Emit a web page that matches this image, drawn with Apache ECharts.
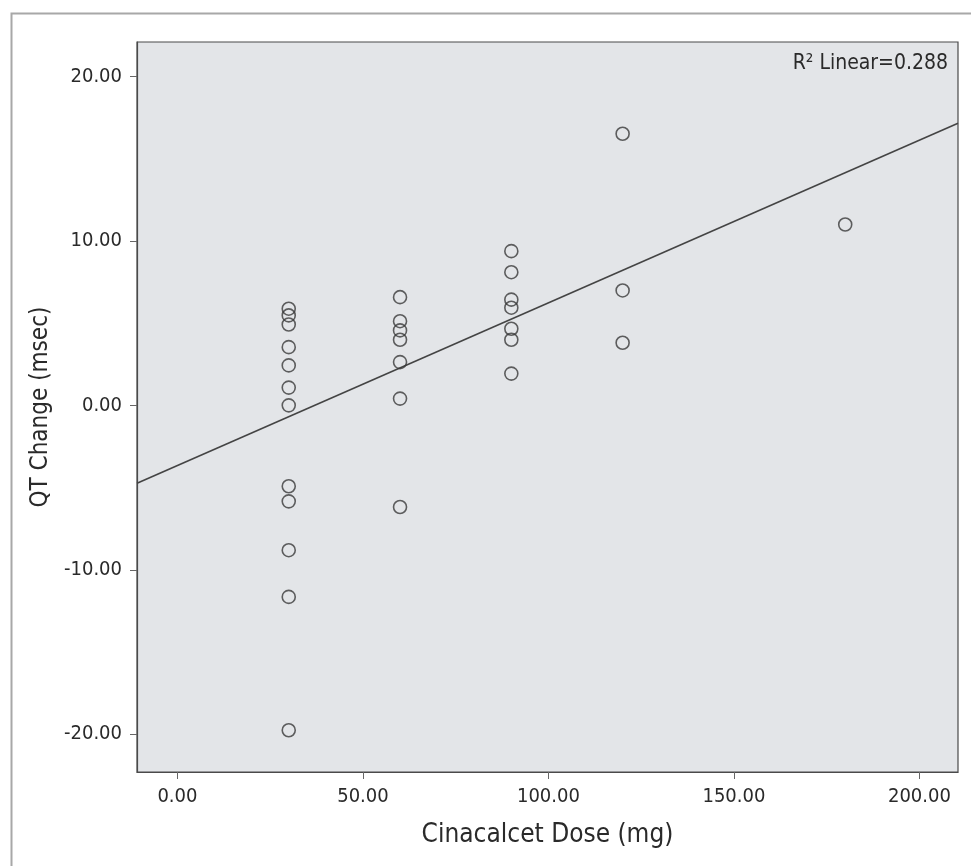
<!DOCTYPE html>
<html>
<head>
<meta charset="utf-8">
<script src="https://cdn.jsdelivr.net/npm/echarts@6/dist/echarts.min.js"></script>
<style>html,body{margin:0;padding:0;background:#fff;}#c{width:971px;height:866px;}</style>
</head>
<body>
<div id="c"></div>
<script>
// Data
const doseLevels = [30, 60, 90, 120, 180];
const qt30  = [5.88, 5.47, 4.92, 3.54, 2.43, 1.08, 0.0, -4.92, -5.84, -8.81, -11.65, -19.76];
const qt60  = [6.58, 5.12, 4.56, 3.99, 2.63, 0.41, -6.18];
const qt90  = [9.38, 8.10, 6.43, 5.94, 4.66, 3.99, 1.93];
const qt120 = [16.52, 6.99, 3.81];
const qt180 = [11.0];
const fitLineX = [-10.9, 210.4];
const fitLineY = [-4.74, 17.16];
const xTicks = [0, 50, 100, 150, 200];
const yTicks = [-20, -10, 0, 10, 20];
const rSquaredText = 'R\u00B2 Linear=0.288';

const groups = [qt30, qt60, qt90, qt120, qt180];
const points = [];
groups.forEach((g, i) => g.forEach(v => points.push([doseLevels[i], v])));
const fitData = fitLineX.map((x, i) => [x, fitLineY[i]]);

const FONT = '"DejaVu Sans Condensed", "Liberation Sans Narrow", sans-serif';
const chart = echarts.init(document.getElementById('c'), null, {renderer: 'canvas'});
chart.setOption({
  animation: false,
  backgroundColor: '#ffffff',
  graphic: [
    {type: 'rect', left: 9, top: 11, shape: {width: 975, height: 880},
     style: {fill: 'none', stroke: '#a8a8a8', lineWidth: 2}, silent: true, z: -1},
    {type: 'text', x: 948, y: 64,
     style: {text: rSquaredText, font: '21px ' + FONT, fill: '#2a2a2a', align: 'right', verticalAlign: 'middle'}, z: 10}
  ],
  grid: {left: 137, top: 42, width: 821, height: 730, show: true,
         backgroundColor: '#e3e5e8', borderColor: '#4a4a4a', borderWidth: 1.2},
  xAxis: {
    type: 'value', min: -10.9, max: 210.4,
    name: 'Cinacalcet Dose (mg)', nameLocation: 'middle', nameGap: 50,
    nameTextStyle: {fontFamily: FONT, fontSize: 26, color: '#2a2a2a'},
    axisLine: {show: true, onZero: false, lineStyle: {color: '#4a4a4a', width: 1.2}},
    axisTick: {show: true, customValues: xTicks, length: 7, inside: false, lineStyle: {color: '#666'}},
    axisLabel: {show: true, customValues: xTicks, fontFamily: FONT, fontSize: 20, color: '#2a2a2a', margin: 15,
                formatter: v => v.toFixed(2)},
    splitLine: {show: false}
  },
  yAxis: {
    type: 'value', min: -22.3, max: 22.1,
    name: 'QT Change (msec)', nameLocation: 'middle', nameGap: 82, nameRotate: 90,
    nameTextStyle: {fontFamily: FONT, fontSize: 24, color: '#2a2a2a'},
    axisLine: {show: true, onZero: false, lineStyle: {color: '#4a4a4a', width: 1.2}},
    axisTick: {show: true, customValues: yTicks, length: 7, inside: false, lineStyle: {color: '#666'}},
    axisLabel: {show: true, customValues: yTicks, fontFamily: FONT, fontSize: 20, color: '#2a2a2a', margin: 15,
                formatter: v => v.toFixed(2)},
    splitLine: {show: false}
  },
  series: [
    {type: 'line', data: fitData, symbol: 'none', silent: true,
     lineStyle: {color: '#444', width: 1.6}, z: 2},
    {type: 'scatter', data: points, symbol: 'circle', symbolSize: 13,
     itemStyle: {color: 'rgba(0,0,0,0)', borderColor: '#3a3a3a', borderWidth: 1.6}, z: 3}
  ]
});
</script>
</body>
</html>
